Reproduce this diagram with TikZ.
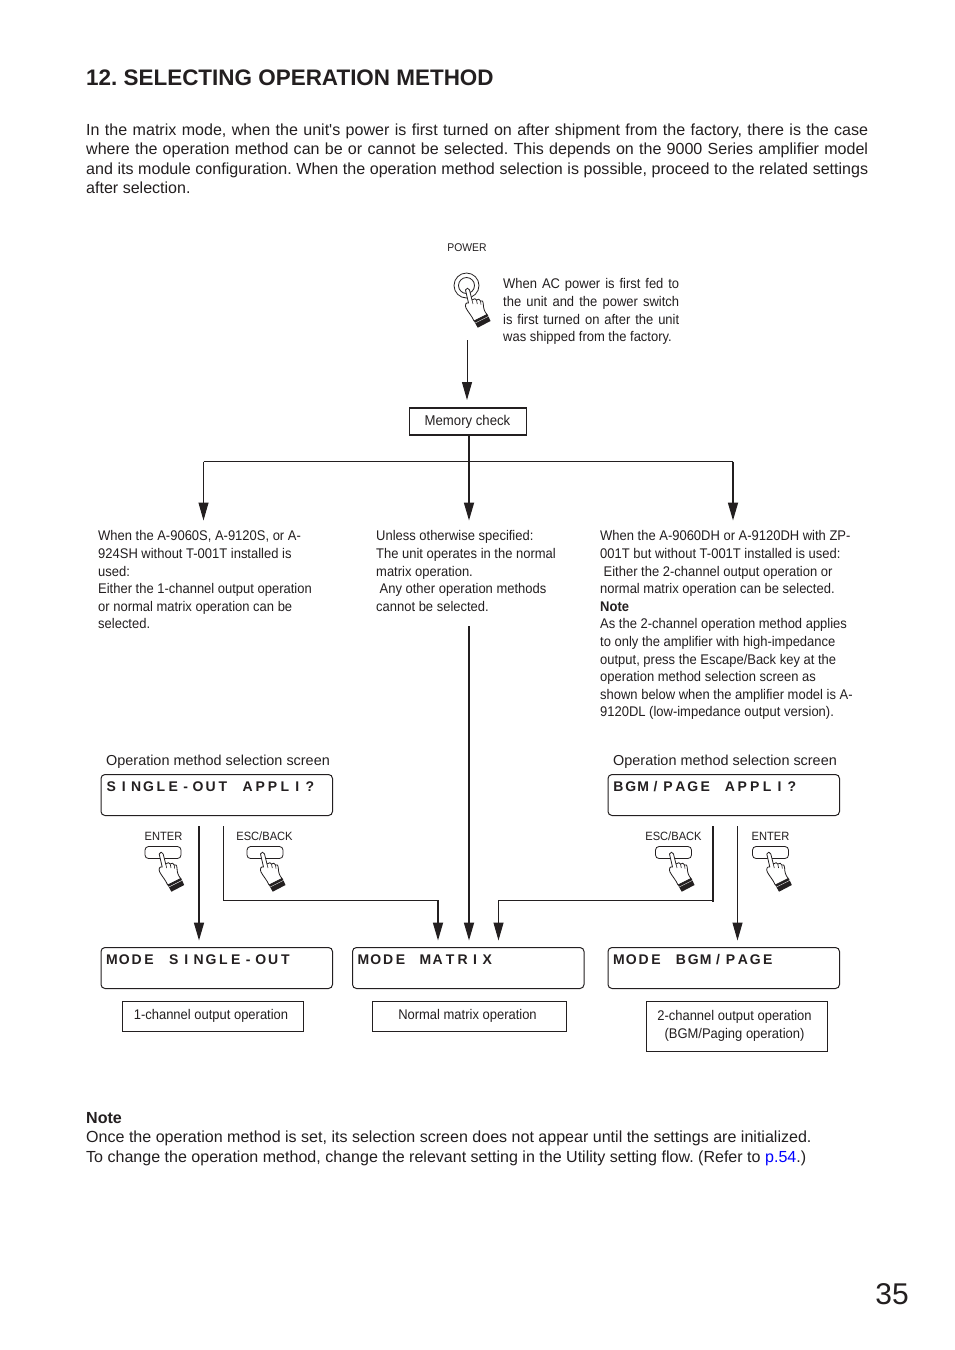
\documentclass[tikz,border=0pt]{standalone}
\usepackage{fontspec}
\setmainfont{Liberation Sans}
\newfontfamily\narrowf[FakeStretch=0.927]{Liberation Sans}
\usetikzlibrary{arrows.meta}
\definecolor{ink}{HTML}{231F20}
\def\lcdrow#1{\ifx#1\relax\else\makebox[12.4pt][c]{#1}\expandafter\lcdrow\fi}
\tikzset{
  x=1pt,y=-1pt,
  body/.style={anchor=north west,inner sep=0pt,text width=782pt,align=justify,font=\fontsize{16.05pt}{19.5pt}\selectfont\frenchspacing,text=ink},
  small/.style={anchor=north west,inner sep=0pt,align=left,font=\narrowf\fontsize{14pt}{17.6pt}\selectfont\frenchspacing,text=ink},
  tiny/.style={inner sep=0pt,font=\narrowf\fontsize{12pt}{14pt}\selectfont,text=ink},
  caption/.style={inner sep=0pt,font=\fontsize{14.42pt}{17pt}\selectfont,text=ink},
  lcd/.style={draw=ink,line width=1pt,rounded corners=4pt,minimum width=231.5pt,minimum height=41pt,inner sep=0pt,outer sep=0pt,anchor=north west},
  lcdtext/.style={inner sep=0pt,anchor=base west,font=\bfseries\fontsize{14pt}{16pt}\selectfont,text=ink},
  opbox/.style={draw=ink,line width=1pt,inner sep=0pt,outer sep=0pt,align=center,font=\narrowf\fontsize{14pt}{18pt}\selectfont,text=ink},
  flow/.style={draw=ink,line width=1pt},
  flowthick/.style={draw=ink,line width=1.7pt},
  tip/.style={-{Triangle[length=18pt,width=10pt]}},
  pics/hand/.style={code={
    % local origin: finger tip
    \draw[ink,line width=.8pt,fill=white,line join=round]
      (-1.5,1) .. controls (-1,-1.5) and (2,-1.5) .. (2.5,1)
      -- (5,11) .. controls (7,9) and (9,9.5) .. (9.5,11)
      .. controls (11,9.5) and (13,10) .. (13.5,12)
      .. controls (15,11) and (16,12) .. (16.3,15)
      .. controls (16.5,19) and (17,22) .. (20,25.5)
      -- (7,32) .. controls (5,27) and (1,23) .. (-1,19)
      .. controls (-2.5,16) and (-1,13) .. (1.5,14) -- cycle;
    \draw[ink,line width=.6pt] (5,11) -- (6,15) (9.5,11) -- (10.3,15) (13.5,12) -- (14,15.5);
    \fill[ink] (7,32) -- (20.5,25.3) -- (23.5,32) -- (10.7,38.7) -- cycle;
    \draw[white,line width=.4pt] (8.2,34) -- (21.6,27.3);
  }},
  pics/btn/.style={code={
    \draw[ink,line width=.8pt,rounded corners=3.5pt,fill=white] (0,0) rectangle (36,12);
  }}
}
\begin{document}
\begin{tikzpicture}
\useasboundingbox (0,0) rectangle (954,1350);
\fill[white] (0,0) rectangle (954,1350);

\node (title) [anchor=base west,inner sep=0pt,font=\bfseries\fontsize{22.45pt}{26pt}\selectfont\frenchspacing,text=ink] at (86,85) {12. SELECTING OPERATION METHOD};

\node (intro) [body] at (86,123.5) {In the matrix mode, when the unit\textquotesingle s power is first turned on after shipment from the factory, there is the case\linebreak where the operation method can be or cannot be selected. This depends on the 9000 Series amplifier model\linebreak and its module configuration. When the operation method selection is possible, proceed to the related settings\linebreak after selection.};

\node (powerlabel) [tiny,anchor=base,font=\narrowf\fontsize{11.2pt}{14pt}\selectfont] at (467,251) {POWER};
% power button
\draw[ink,line width=.8pt] (466.5,285.5) circle (12.5pt);
\draw[ink,line width=.8pt] (466.5,285.5) circle (8pt);
\pic at (467,289) {hand};
\node (powertext) [small,text width=176pt,align=justify] at (503,278.5) {When AC power is first fed to\linebreak the unit and the power switch\linebreak is first turned on after the unit\linebreak was shipped from the factory.};
\coordinate (powerout) at (467,340);

\node (memory) [opbox,line width=1.5pt,minimum width=117pt,minimum height=27pt,font=\narrowf\fontsize{14.2pt}{17pt}\selectfont] at (468,421.5) {\raisebox{-2pt}{\hspace*{-1pt}Memory check}};

\draw[flow,tip] (powerout) -- ([yshift=8pt]memory.north -| powerout);

\coordinate (bus) at (469,461.5);
\coordinate (busl) at (203.5,461.5);
\coordinate (busr) at (733,461.5);
\node (tl) [small] at (98,530.5) {When the A-9060S, A-9120S, or A-\\924SH without T-001T installed is\\used:\\Either the 1-channel output operation\\or normal matrix operation can be\\selected.};
\node (tm) [small] at (376,530.5) {Unless otherwise specified:\\The unit operates in the normal\\matrix operation.\\\hspace*{3.5pt}Any other operation methods\\cannot be selected.};
\node (tr) [small] at (600,530.5) {When the A-9060DH or A-9120DH with ZP-\\001T but without T-001T installed is used:\\\hspace*{3.5pt}Either the 2-channel output operation or\\normal matrix operation can be selected.\\\textbf{Note}\\As the 2-channel operation method applies\\to only the amplifier with high-impedance\\output, press the Escape/Back key at the\\operation method selection screen as\\shown below when the amplifier model is A-\\9120DL (low-impedance output version).};

\draw[flowthick] (memory.south -| bus) -- (bus);
\draw[flow] (busl) -- (busr);
\draw[flow,tip] (busl) -- ++(0,59);
\draw[flowthick,tip] (bus) -- ++(0,59);
\draw[flowthick,tip] (busr) -- ++(0,59);

% screens
\node (capl) [caption,anchor=base west] at (106,765) {Operation method selection screen};
\node (capr) [caption,anchor=base west] at (613,765) {Operation method selection screen};
\node (lcdsa) [lcd] at (101,774.5) {};
\node (lcdba) [lcd] at (608,774.5) {};
\node [lcdtext] at (105,791) {\lcdrow SINGLE-OUT~APPLI?\relax};
\node [lcdtext] at (612,791) {\lcdrow BGM/PAGE~APPLI?\relax};

\node (mode1) [lcd] at (101,947.5) {};
\node (mode2) [lcd] at (352.5,947.5) {};
\node (mode3) [lcd] at (608,947.5) {};
\node [lcdtext] at (105.5,964) {\lcdrow MODE~SINGLE-OUT\relax};
\node [lcdtext] at (357,964) {\lcdrow MODE~MATRIX\relax};
\node [lcdtext] at (612.5,964) {\lcdrow MODE~BGM/PAGE\relax};

% keys
\node (k1) [tiny,anchor=base] at (163.5,840.5) {ENTER};
\node (k2) [tiny,anchor=base] at (264.5,840.5) {ESC/BACK};
\node (k3) [tiny,anchor=base] at (673.5,840.5) {ESC/BACK};
\node (k4) [tiny,anchor=base] at (770.5,840.5) {ENTER};
\foreach \bx/\tx in {145/160.7,247/262,655.5/671,752.5/768.3}{
  \pic at (\bx,846.5) {btn};
  \pic at (\tx,853) {hand};
}

% connectors
\coordinate (a1) at (199,826);
\draw[flowthick,tip] (a1) -- ([yshift=7pt]a1 |- mode1.north);
\coordinate (a2) at (223.5,826);
\coordinate (m2l) at (438,900.5);
\draw[flow] (a2) |- (m2l);
\draw[flowthick,tip] ([yshift=.5pt]m2l) -- ([yshift=7pt]m2l |- mode2.north);
\coordinate (mid0) at (469,626);
\draw[flowthick,tip] (mid0) -- ([yshift=7pt]mid0 |- mode2.north);
\coordinate (a3) at (713,826);
\coordinate (m2r) at (498.5,900.5);
\draw[flowthick] (a3) -- ([yshift=-1pt]a3 |- m2r);
\draw[flow,tip] (a3 |- m2r) -- (m2r) -- ([yshift=7pt]m2r |- mode2.north);
\coordinate (a4) at (737.5,826);
\draw[flow,tip] (a4) -- ([yshift=7pt]a4 |- mode3.north);

% op boxes
\node (op1) [opbox,minimum width=181pt,minimum height=30pt] at (212.5,1016) {\raisebox{-2pt}{\hspace*{-3pt}1-channel output operation}};
\node (op2) [opbox,minimum width=194pt,minimum height=30pt] at (469.5,1016) {\raisebox{-2pt}{\hspace*{-4pt}Normal matrix operation}};
\node (op3) [opbox,minimum width=181pt,minimum height=50pt] at (736.5,1026) {\hspace*{-4pt}2-channel output operation\\\hspace*{-4pt}(BGM/Paging operation)};

\node (note) [body] at (86,1112) {\textbf{Note}\\Once the operation method is set, its selection screen does not appear until the settings are initialized.\\To change the operation method, change the relevant setting in the Utility setting flow. (Refer to \textcolor{blue}{p.54}.)};

\node (page) [anchor=base east,inner sep=0pt,font=\fontsize{30pt}{34pt}\selectfont,text=ink] at (909,1304) {35};
\end{tikzpicture}
\end{document}
